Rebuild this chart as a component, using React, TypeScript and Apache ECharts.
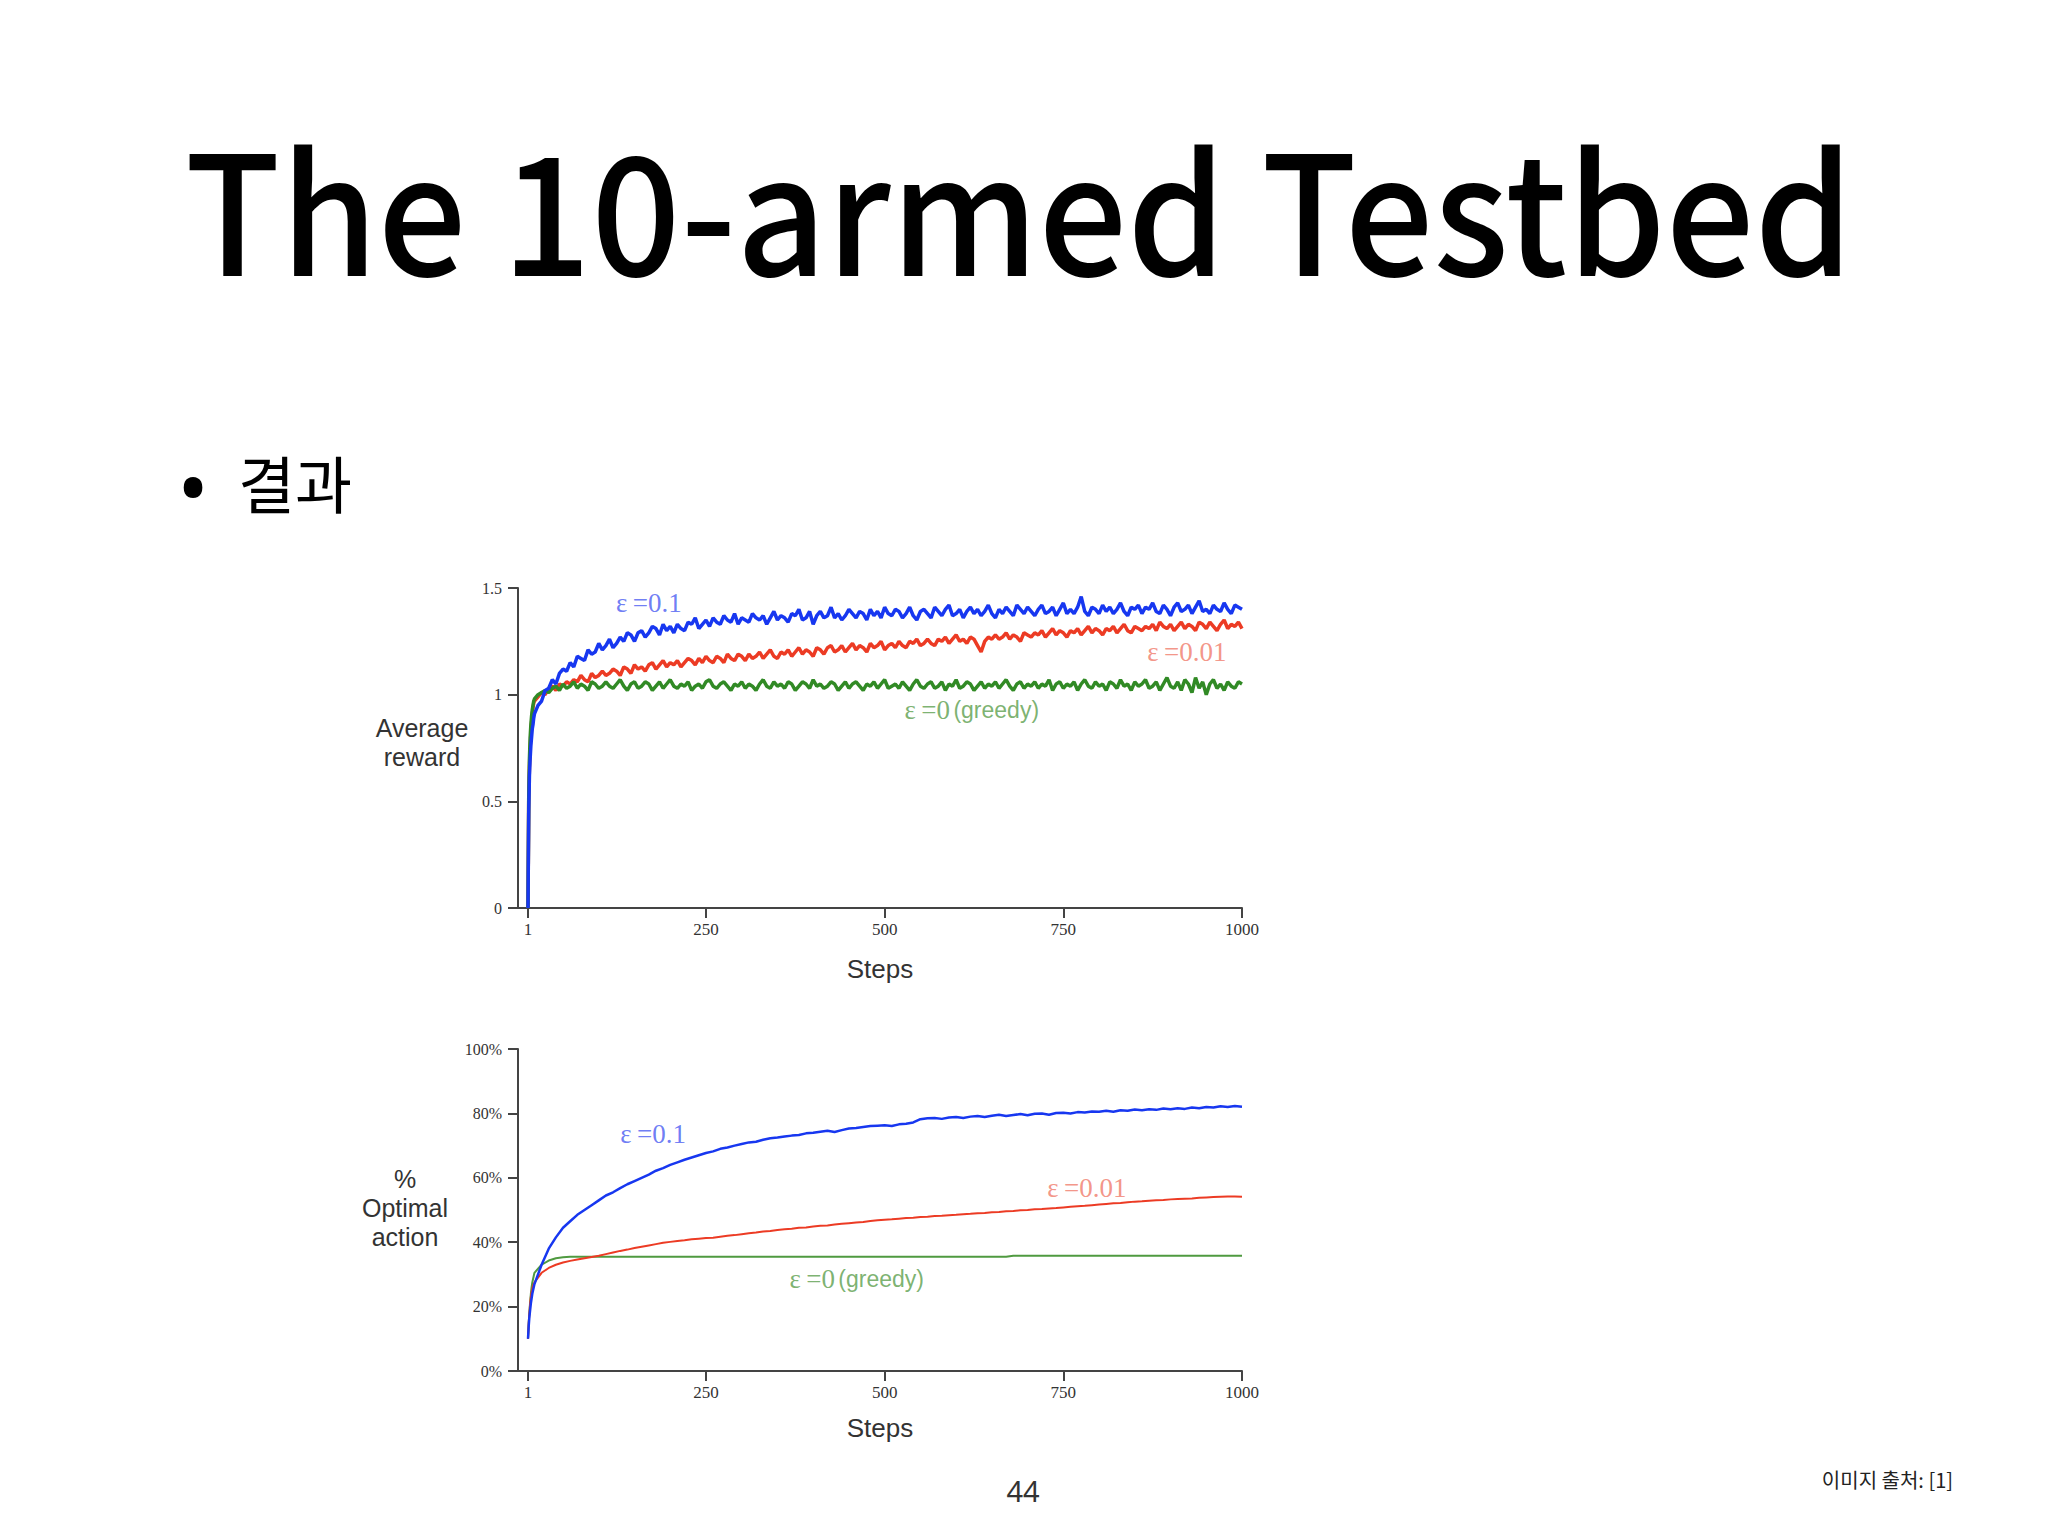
import React, { useEffect, useRef } from 'react';
import * as echarts from 'echarts';

// x positions: dense early steps, then every STEP_SPACING steps from FIRST_SPACED
const EARLY_STEPS = [1, 2, 3, 4, 5, 6, 7, 8, 9];
const FIRST_SPACED = 10;
const REWARD_SPACING = 5;
const OPTIMAL_SPACING = 10;
const STEP_TICKS = [1, 250, 500, 750, 1000];

// Average reward (top chart)
const rewardEarlyEps01 = [0.0, 0.45, 0.62, 0.7, 0.76, 0.8, 0.84, 0.86, 0.89];
const rewardEps01 = [
  0.91, 0.95, 0.97, 1.02, 1.03, 1.07, 1.05, 1.1, 1.12, 1.11,
  1.15, 1.13, 1.18, 1.17, 1.16, 1.21, 1.19, 1.2, 1.24, 1.21,
  1.23, 1.26, 1.22, 1.24, 1.27, 1.25, 1.29, 1.28, 1.25, 1.29,
  1.3, 1.27, 1.29, 1.32, 1.31, 1.28, 1.33, 1.3, 1.32, 1.29,
  1.33, 1.31, 1.3, 1.34, 1.33, 1.36, 1.31, 1.33, 1.35, 1.32,
  1.36, 1.34, 1.33, 1.37, 1.35, 1.34, 1.38, 1.33, 1.36, 1.35,
  1.34, 1.38, 1.36, 1.35, 1.37, 1.33, 1.36, 1.39, 1.35, 1.37,
  1.36, 1.34, 1.38, 1.37, 1.4, 1.35, 1.36, 1.39, 1.33, 1.37,
  1.39, 1.36, 1.37, 1.41, 1.36, 1.38, 1.35, 1.37, 1.4, 1.38,
  1.36, 1.39, 1.38, 1.35, 1.4, 1.37, 1.39, 1.36, 1.41, 1.38,
  1.37, 1.4, 1.39, 1.36, 1.38, 1.41, 1.37, 1.35, 1.39, 1.4,
  1.38, 1.36, 1.41, 1.39, 1.37, 1.4, 1.42, 1.37, 1.38, 1.4,
  1.36, 1.39, 1.41, 1.38, 1.4, 1.37, 1.39, 1.42, 1.38, 1.36,
  1.4, 1.38, 1.41, 1.39, 1.37, 1.42, 1.4, 1.38, 1.41, 1.39,
  1.37, 1.4, 1.42, 1.38, 1.39, 1.41, 1.37, 1.4, 1.43, 1.38,
  1.4, 1.38, 1.41, 1.46, 1.39, 1.37, 1.41, 1.4, 1.38, 1.42,
  1.39, 1.41, 1.38, 1.4, 1.43, 1.39, 1.37, 1.41, 1.4, 1.42,
  1.38, 1.41, 1.4, 1.43, 1.39, 1.38, 1.42, 1.4, 1.37, 1.41,
  1.43, 1.39, 1.4, 1.42, 1.38, 1.41, 1.44, 1.39, 1.4, 1.38,
  1.42, 1.4, 1.39, 1.43, 1.4, 1.38, 1.42, 1.41, 1.4,
];

const rewardEarlyEps001 = [0.0, 0.5, 0.66, 0.75, 0.82, 0.87, 0.91, 0.94, 0.96];
const rewardEps001 = [
  0.97, 0.99, 1.01, 1.0, 1.03, 1.04, 1.02, 1.05, 1.04, 1.06,
  1.05, 1.07, 1.06, 1.09, 1.07, 1.06, 1.1, 1.08, 1.09, 1.11,
  1.09, 1.1, 1.12, 1.11, 1.09, 1.13, 1.12, 1.1, 1.14, 1.12,
  1.13, 1.11, 1.14, 1.15, 1.12, 1.14, 1.16, 1.13, 1.15, 1.14,
  1.16, 1.13, 1.15, 1.17, 1.16, 1.14, 1.17, 1.15, 1.18, 1.16,
  1.15, 1.18, 1.17, 1.15, 1.19, 1.17, 1.16, 1.19, 1.18, 1.16,
  1.19, 1.17, 1.18, 1.2, 1.17, 1.19, 1.21, 1.18, 1.17, 1.2,
  1.19, 1.21, 1.18, 1.2, 1.22, 1.19, 1.21, 1.2, 1.18, 1.22,
  1.21, 1.19, 1.22, 1.23, 1.2, 1.21, 1.23, 1.2, 1.22, 1.24,
  1.21, 1.23, 1.22, 1.2, 1.24, 1.22, 1.23, 1.25, 1.21, 1.23,
  1.24, 1.22, 1.25, 1.23, 1.22, 1.25, 1.24, 1.26, 1.23, 1.24,
  1.26, 1.24, 1.23, 1.26, 1.25, 1.27, 1.24, 1.26, 1.28, 1.25,
  1.26, 1.24, 1.27, 1.26, 1.23, 1.2, 1.25, 1.27, 1.26, 1.28,
  1.26, 1.27, 1.29, 1.26, 1.28, 1.27, 1.25, 1.29, 1.28, 1.27,
  1.29, 1.28, 1.3, 1.27, 1.29, 1.31, 1.28, 1.3, 1.29, 1.27,
  1.3, 1.29, 1.31, 1.28, 1.3, 1.32, 1.29, 1.31, 1.3, 1.28,
  1.31, 1.3, 1.32, 1.29, 1.31, 1.33, 1.3, 1.29, 1.32, 1.31,
  1.3, 1.32, 1.31, 1.33, 1.3, 1.34, 1.32, 1.31, 1.33, 1.3,
  1.32, 1.34, 1.31, 1.33, 1.32, 1.3, 1.34, 1.33, 1.31, 1.34,
  1.32, 1.3, 1.33, 1.35, 1.31, 1.33, 1.32, 1.34, 1.31,
];

const rewardEarlyGreedy = [0.0, 0.52, 0.7, 0.8, 0.86, 0.9, 0.93, 0.95, 0.97];
const rewardGreedy = [
  0.98, 1.0, 1.01, 1.02, 1.01, 1.03, 1.04, 1.02, 1.05, 1.03,
  1.04, 1.06, 1.03, 1.05, 1.04, 1.02, 1.06, 1.05, 1.03, 1.04,
  1.06, 1.04, 1.03, 1.05, 1.07, 1.04, 1.02, 1.05, 1.06, 1.03,
  1.04, 1.06, 1.05, 1.02, 1.04, 1.06, 1.03, 1.05, 1.07, 1.04,
  1.03, 1.05, 1.04, 1.06, 1.02, 1.04, 1.05, 1.03, 1.06, 1.07,
  1.04, 1.03, 1.05, 1.06, 1.04, 1.02, 1.05, 1.04, 1.06, 1.03,
  1.05, 1.04, 1.02, 1.05, 1.07, 1.04, 1.03, 1.06, 1.04, 1.05,
  1.03, 1.06, 1.05, 1.02, 1.04, 1.06, 1.05, 1.03, 1.07, 1.04,
  1.05, 1.03, 1.04, 1.06, 1.05, 1.02, 1.04, 1.06, 1.03, 1.05,
  1.06, 1.04, 1.02, 1.05, 1.04, 1.06, 1.03, 1.05, 1.07, 1.03,
  1.04, 1.05, 1.03, 1.06, 1.04, 1.02, 1.05, 1.07, 1.04, 1.03,
  1.05, 1.06, 1.03, 1.04, 1.06, 1.02, 1.05, 1.04, 1.07, 1.03,
  1.04, 1.06, 1.05, 1.02, 1.04, 1.06, 1.03, 1.05, 1.04, 1.06,
  1.03, 1.05, 1.07, 1.04, 1.02, 1.05, 1.06, 1.03, 1.05, 1.04,
  1.06, 1.03, 1.05, 1.04, 1.07, 1.02, 1.05, 1.06, 1.03, 1.05,
  1.04, 1.06, 1.02, 1.05, 1.07, 1.04, 1.03, 1.06, 1.04, 1.05,
  1.02, 1.06, 1.05, 1.03, 1.07, 1.04, 1.05, 1.02, 1.06, 1.04,
  1.05, 1.07, 1.03, 1.04, 1.06, 1.02, 1.05, 1.08, 1.04, 1.03,
  1.06, 1.02, 1.07, 1.05, 1.01, 1.08, 1.03, 1.06, 1.0, 1.05,
  1.07, 1.03, 1.05, 1.02, 1.06, 1.04, 1.03, 1.06, 1.05,
];

// % Optimal action (bottom chart)
const optimalEarlyEps01 = [10, 14, 17, 19, 21, 22.5, 24, 25, 26];
const optimalEps01 = [
  27, 33, 38, 41.5, 44.5, 46.5, 48.5, 50, 51.5, 53,
  54.5, 55.5, 56.8, 58, 59, 60, 61, 62.2, 63, 64,
  64.8, 65.6, 66.3, 67, 67.7, 68.2, 69, 69.4, 70, 70.5,
  71, 71.2, 71.8, 72.3, 72.5, 72.8, 73.1, 73.3, 73.8, 74,
  74.3, 74.6, 74.2, 74.8, 75.3, 75.5, 75.8, 76.1, 76.2, 76.3,
  76.1, 76.6, 76.8, 77.2, 78.2, 78.5, 78.6, 78.3, 78.7, 78.9,
  78.6, 79, 79.2, 78.9, 79.3, 79.6, 79.2, 79.5, 79.8, 79.4,
  79.9, 80, 79.6, 80.1, 80.2, 80, 80.4, 80.3, 80.6, 80.5,
  80.8, 80.5, 81, 80.8, 81.2, 81, 81.3, 81.1, 81.5, 81.3,
  81.6, 81.4, 81.8, 81.6, 82, 81.8, 82.2, 82, 82.3, 82.1,
];

const optimalEarlyEps001 = [10, 15, 18, 21, 23, 24.5, 25.5, 26.5, 27];
const optimalEps001 = [
  27.5, 30.5, 32, 33, 33.7, 34.2, 34.6, 35, 35.4, 35.8,
  36.3, 36.8, 37.3, 37.7, 38.2, 38.6, 39, 39.4, 39.8, 40.1,
  40.4, 40.6, 40.9, 41.1, 41.3, 41.4, 41.7, 42, 42.2, 42.5,
  42.8, 43, 43.3, 43.5, 43.8, 44, 44.2, 44.5, 44.6, 44.9,
  45.1, 45.2, 45.5, 45.7, 45.9, 46.1, 46.3, 46.6, 46.8, 47,
  47.1, 47.3, 47.5, 47.6, 47.8, 47.9, 48.1, 48.2, 48.4, 48.5,
  48.7, 48.8, 49, 49.1, 49.3, 49.4, 49.6, 49.7, 49.9, 50,
  50.2, 50.3, 50.5, 50.6, 50.8, 51, 51.2, 51.3, 51.5, 51.7,
  51.9, 52.1, 52.2, 52.4, 52.6, 52.7, 52.9, 53, 53.1, 53.3,
  53.4, 53.5, 53.6, 53.8, 53.9, 54, 54.1, 54.2, 54.2, 54.1,
];

const optimalEarlyGreedy = [10, 15, 18.5, 21.5, 24, 26, 27.5, 28.5, 29.5];
const optimalGreedy = [
  30.5, 33, 34.3, 35, 35.3, 35.5, 35.5, 35.5, 35.5, 35.5,
  35.5, 35.5, 35.5, 35.5, 35.5, 35.5, 35.5, 35.5, 35.5, 35.5,
  35.5, 35.5, 35.5, 35.5, 35.5, 35.5, 35.5, 35.5, 35.5, 35.5,
  35.5, 35.5, 35.5, 35.5, 35.5, 35.5, 35.5, 35.5, 35.5, 35.5,
  35.5, 35.5, 35.5, 35.5, 35.5, 35.5, 35.5, 35.5, 35.5, 35.5,
  35.5, 35.5, 35.5, 35.5, 35.5, 35.5, 35.5, 35.5, 35.5, 35.5,
  35.5, 35.5, 35.5, 35.5, 35.5, 35.5, 35.5, 35.8, 35.8, 35.8,
  35.8, 35.8, 35.8, 35.8, 35.8, 35.8, 35.8, 35.8, 35.8, 35.8,
  35.8, 35.8, 35.8, 35.8, 35.8, 35.8, 35.8, 35.8, 35.8, 35.8,
  35.8, 35.8, 35.8, 35.8, 35.8, 35.8, 35.8, 35.8, 35.8, 35.8,
];

// where the curve names sit, in data units [step, value]
const rewardNotes = [
  { text: '{s|ε\u2009=0.1}', at: [170, 1.43], color: '#4a5cf2' },
  { text: '{s|ε\u2009=0.01}', at: [923, 1.2], color: '#f07a6a' },
  { text: '{s|ε\u2009=0} {g|(greedy)}', at: [622, 0.93], color: '#5b9e4c' },
];
const optimalNotes = [
  { text: '{s|ε\u2009=0.1}', at: [176, 73.6], color: '#4a5cf2' },
  { text: '{s|ε\u2009=0.01}', at: [783, 56.8], color: '#f07a6a' },
  { text: '{s|ε\u2009=0} {g|(greedy)}', at: [461, 28.6], color: '#5b9e4c' },
];

const BLUE = '#1737f0';
const RED = '#ec3b24';
const GREEN = '#318a25';

const toPairs = (early: number[], rest: number[], spacing: number) => [
  ...early.map((v, i) => [EARLY_STEPS[i], v]),
  ...rest.map((v, i) => [FIRST_SPACED + i * spacing, v]),
];

const axisColor = '#444';
const serif = 'Liberation Serif';
const sans = 'Liberation Sans';

const makeXAxis = (gridIndex: number, nameGap: number) => ({
  gridIndex,
  type: 'value',
  min: -13,
  max: 1000,
  axisLine: { onZero: false, lineStyle: { color: axisColor, width: 2 } },
  axisTick: { customValues: STEP_TICKS, length: 10, lineStyle: { color: axisColor, width: 2 } },
  axisLabel: {
    customValues: STEP_TICKS,
    formatter: (v: number) => String(v),
    fontFamily: serif,
    fontSize: 17,
    color: '#333',
    margin: 13,
  },
  splitLine: { show: false },
  name: 'Steps',
  nameLocation: 'middle',
  nameGap,
  nameTextStyle: { fontFamily: sans, fontSize: 26, color: '#333' },
});

const makeYAxis = (gridIndex: number, max: number, interval: number, fmt: string) => ({
  gridIndex,
  type: 'value',
  min: 0,
  max,
  interval,
  axisLine: { show: true, onZero: false, lineStyle: { color: axisColor, width: 2 } },
  axisTick: { show: true, length: 10, lineStyle: { color: axisColor, width: 2 } },
  axisLabel: {
    formatter: fmt,
    fontFamily: serif,
    fontSize: 16,
    color: '#333',
    margin: 16,
    padding: [0, 0, 8, 0],
  },
  splitLine: { show: false },
});

const noteSeries = (notes: typeof rewardNotes, axisIndex: number) =>
  notes.map((n) => ({
    type: 'scatter',
    xAxisIndex: axisIndex,
    yAxisIndex: axisIndex,
    symbolSize: 1,
    itemStyle: { color: 'rgba(0,0,0,0)' },
    silent: true,
    z: 5,
    data: [n.at],
    label: {
      show: true,
      position: 'inside',
      formatter: n.text,
      rich: {
        s: { fontFamily: serif, fontSize: 27, color: n.color },
        g: { fontFamily: sans, fontSize: 23, color: n.color },
      },
    },
  }));

const App: React.FC = () => {
  const chartRef = useRef<HTMLDivElement>(null);

  useEffect(() => {
    document.body.style.margin = '0';
    if (!chartRef.current) return;
    const chart = echarts.init(chartRef.current, undefined, { renderer: 'svg' });

    const line = (data: number[][], color: string, width: number, axis: number) => ({
      type: 'line',
      xAxisIndex: axis,
      yAxisIndex: axis,
      data,
      showSymbol: false,
      symbol: 'none',
      silent: true,
      lineStyle: { color, width },
    });

    chart.setOption({
      animation: false,
      backgroundColor: '#ffffff',
      grid: [
        { left: 518, top: 588, width: 724, height: 320 },
        { left: 518, top: 1049, width: 724, height: 322 },
      ],
      xAxis: [makeXAxis(0, 48), makeXAxis(1, 44)],
      yAxis: [makeYAxis(0, 1.5, 0.5, '{value}'), makeYAxis(1, 100, 20, '{value}%')],
      graphic: [
        {
          type: 'text',
          x: 1019,
          y: 204,
          scaleX: 0.95,
          style: {
            text: 'The 10-armed Testbed',
            fontFamily: 'Noto Sans CJK KR',
            fontWeight: 500,
            fontSize: 165,
            fill: '#000',
            textAlign: 'center',
            textVerticalAlign: 'middle',
          },
        },
        {
          type: 'text',
          x: 193,
          y: 485,
          style: { text: '•', fontFamily: 'Noto Sans', fontSize: 84, fill: '#000', textAlign: 'center', textVerticalAlign: 'middle' },
        },
        {
          type: 'text',
          x: 238,
          y: 482,
          style: { text: '결과', fontFamily: 'Noto Sans CJK KR', fontSize: 62, fill: '#000', textAlign: 'left', textVerticalAlign: 'middle' },
        },
        {
          type: 'text',
          x: 422,
          y: 742,
          style: {
            text: 'Average\nreward',
            fontFamily: sans,
            fontSize: 25,
            lineHeight: 29,
            fill: '#333',
            textAlign: 'center',
            textVerticalAlign: 'middle',
          },
        },
        {
          type: 'text',
          x: 405,
          y: 1208,
          style: {
            text: '%\nOptimal\naction',
            fontFamily: sans,
            fontSize: 25,
            lineHeight: 29,
            fill: '#333',
            textAlign: 'center',
            textVerticalAlign: 'middle',
          },
        },
        {
          type: 'text',
          x: 1023,
          y: 1490,
          style: { text: '44', fontFamily: 'Noto Sans', fontSize: 29, fill: '#333', textAlign: 'center', textVerticalAlign: 'middle' },
        },
        {
          type: 'text',
          x: 1953,
          y: 1479,
          style: { text: '이미지 출처: [1]', fontFamily: 'Noto Sans CJK KR', fontSize: 20, fill: '#222', textAlign: 'right', textVerticalAlign: 'middle' },
        },
      ],
      series: [
        line(toPairs(rewardEarlyEps001, rewardEps001, REWARD_SPACING), RED, 3.5, 0),
        line(toPairs(rewardEarlyGreedy, rewardGreedy, REWARD_SPACING), GREEN, 3.5, 0),
        line(toPairs(rewardEarlyEps01, rewardEps01, REWARD_SPACING), BLUE, 3.5, 0),
        line(toPairs(optimalEarlyGreedy, optimalGreedy, OPTIMAL_SPACING), '#4f9a40', 2, 1),
        line(toPairs(optimalEarlyEps001, optimalEps001, OPTIMAL_SPACING), RED, 2, 1),
        line(toPairs(optimalEarlyEps01, optimalEps01, OPTIMAL_SPACING), BLUE, 2.5, 1),
        ...noteSeries(rewardNotes, 0),
        ...noteSeries(optimalNotes, 1),
      ],
    });

    return () => {
      chart.dispose();
    };
  }, []);

  return <div ref={chartRef} style={{ width: '2048px', height: '1536px' }} />;
};

export default App;
